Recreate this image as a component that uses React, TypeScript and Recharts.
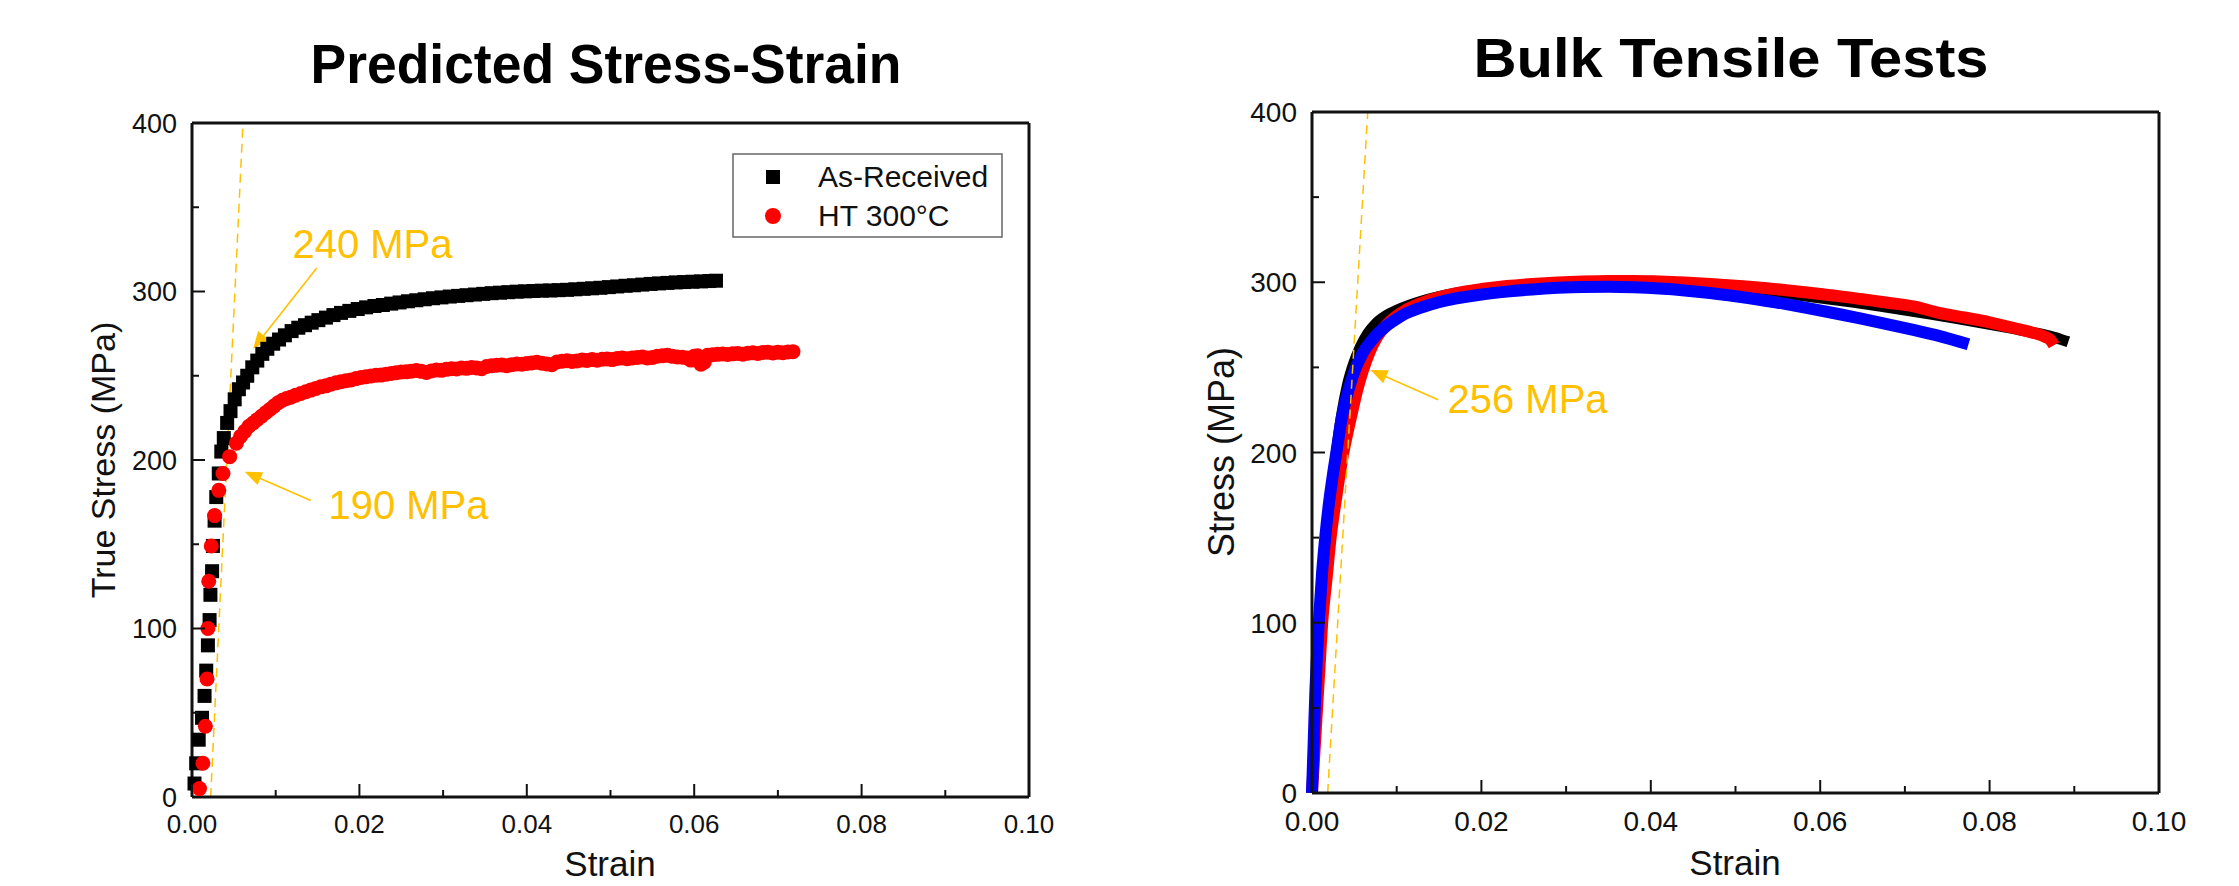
import React from 'react';
import { ComposedChart, Scatter, Line, XAxis, YAxis, ReferenceLine, ReferenceDot } from 'recharts';

const FONT = '"Liberation Sans", Arial, sans-serif';
const TITLE_FONT = '"Liberation Sans Narrow", "Arial Narrow", "Liberation Sans", Arial, sans-serif';
const AXIS = '#111';
const GOLD = '#FFC000';

const strainTicks = [0, 0.01, 0.02, 0.03, 0.04, 0.05, 0.06, 0.07, 0.08, 0.09, 0.1];
const strainLabels = ['0.00', '', '0.02', '', '0.04', '', '0.06', '', '0.08', '', '0.10'];
const stressTicks = [0, 50, 100, 150, 200, 250, 300, 350, 400];
const stressLabels = ['0', '', '100', '', '200', '', '300', '', '400'];

// left panel: predicted curves, [strain, true stress MPa]
const asReceived: [number, number][] = [
  [0.0003, 8], [0.0005, 20], [0.0008, 34], [0.0012, 47], [0.0015, 60], [0.0017, 75], [0.0019, 90],
  [0.0021, 105], [0.0022, 120], [0.0024, 134], [0.0025, 149], [0.0027, 164], [0.0029, 178], [0.0032, 192],
  [0.0035, 205], [0.0038, 213], [0.0042, 222], [0.0046, 229], [0.0051, 236], [0.0056, 242], [0.0061, 246],
  [0.0066, 250], [0.0072, 255], [0.0078, 259], [0.0084, 263], [0.009, 266], [0.0097, 269], [0.0104, 271.5],
  [0.0111, 274], [0.0119, 276.5], [0.0127, 278.5], [0.0135, 280], [0.0143, 281.5], [0.0151, 283], [0.016, 284.5],
  [0.0169, 286], [0.0178, 287.3], [0.0188, 288.5], [0.0198, 289.6], [0.0208, 290.6], [0.0218, 291.4], [0.0228, 292],
  [0.0238, 292.8], [0.0248, 293.5], [0.0258, 294.2], [0.0268, 294.8], [0.0278, 295.4], [0.0288, 296], [0.0298, 296.5],
  [0.0308, 297], [0.0318, 297.4], [0.0328, 297.8], [0.0338, 298.2], [0.0348, 298.6], [0.0358, 299], [0.0368, 299.3],
  [0.0378, 299.6], [0.0388, 299.9], [0.0398, 300.1], [0.0408, 300.3], [0.0418, 300.5], [0.0428, 300.6], [0.0438, 300.8],
  [0.0448, 301], [0.0458, 301.3], [0.0468, 301.6], [0.0478, 301.9], [0.0488, 302.2], [0.0498, 302.6], [0.0508, 303],
  [0.0518, 303.4], [0.0528, 303.7], [0.0538, 304.1], [0.0548, 304.5], [0.0558, 304.8], [0.0568, 305.1], [0.0578, 305.4],
  [0.0588, 305.6], [0.0598, 305.8], [0.0608, 306], [0.0618, 306.2], [0.0626, 306.4],
];

const ht300: [number, number][] = [
  [0.0009, 5], [0.0013, 20], [0.0016, 42], [0.0018, 70], [0.0019, 100], [0.002, 128], [0.0023, 149], [0.0027, 167],
  [0.0032, 182], [0.0037, 192], [0.0045, 202], [0.0053, 210], [0.0058, 214], [0.0063, 217], [0.0068, 220], [0.0073, 222],
  [0.0078, 224], [0.0083, 226], [0.0088, 228], [0.0093, 230], [0.0098, 232], [0.0103, 234], [0.0108, 235.5], [0.0113, 236.5],
  [0.0118, 237.3], [0.0124, 238.5], [0.013, 239.5], [0.0136, 240.5], [0.0142, 241.5], [0.0148, 242.5], [0.0154, 243.4],
  [0.016, 244], [0.0166, 245], [0.0172, 245.8], [0.0178, 246.5], [0.0184, 247], [0.019, 247.5], [0.0196, 248.3],
  [0.0202, 249], [0.0208, 249.4], [0.0214, 249.9], [0.022, 250.3], [0.0226, 250.4], [0.0232, 250.9], [0.0238, 251.4],
  [0.0244, 251.8], [0.025, 252.2], [0.0256, 252.3], [0.0262, 252.7], [0.0268, 253.1], [0.0274, 252.6], [0.028, 252],
  [0.0286, 252.8], [0.0292, 253.4], [0.0298, 253.2], [0.0304, 253.8], [0.031, 254.2], [0.0316, 254], [0.0322, 254.6],
  [0.0328, 254.4], [0.0334, 254.9], [0.034, 254.6], [0.0346, 254.2], [0.0352, 255.5], [0.0358, 256], [0.0364, 256.2],
  [0.037, 256.4], [0.0376, 256], [0.0382, 256.6], [0.0388, 257], [0.0394, 256.8], [0.04, 257.3], [0.0406, 257.6],
  [0.0412, 258], [0.0418, 257.4], [0.0424, 257], [0.043, 256.6], [0.0436, 258.2], [0.0442, 258.6], [0.0448, 258.9],
  [0.0454, 258.5], [0.046, 258.8], [0.0466, 259.3], [0.0472, 259.1], [0.0478, 259.6], [0.0484, 259.2], [0.049, 259.8],
  [0.0496, 260], [0.0502, 259.6], [0.0508, 260.2], [0.0514, 260.5], [0.052, 260.1], [0.0526, 260.6], [0.0532, 260.9],
  [0.0538, 261.2], [0.0544, 260.6], [0.055, 260.9], [0.0556, 261.6], [0.0562, 261.9], [0.0568, 262.1], [0.0574, 261.5],
  [0.058, 261.2], [0.0586, 261], [0.0592, 260.6], [0.0596, 259.3], [0.06, 261.5], [0.0604, 261.8], [0.0608, 256.8],
  [0.0612, 258], [0.0616, 262.2], [0.0622, 262.5], [0.0628, 262.7], [0.0634, 262.9], [0.064, 262.6], [0.0646, 263],
  [0.0652, 263.2], [0.0658, 262.8], [0.0664, 263.4], [0.067, 263.6], [0.0676, 263.2], [0.0682, 263.8], [0.0688, 264],
  [0.0694, 263.5], [0.07, 264], [0.0706, 263.7], [0.0712, 264.1], [0.0718, 264.3],
];

const predictedOffset: [number, number][] = [[0.00223, 0], [0.00609, 400]];

// right panel: bulk tensile tests, [strain, stress MPa]
const bulkBlack: [number, number][] = [
  [0, 0], [0.0003, 30], [0.0006, 60], [0.0009, 90], [0.0013, 120], [0.0018, 150], [0.0024, 180], [0.003, 205],
  [0.0036, 225], [0.0042, 240], [0.0049, 252], [0.0057, 262], [0.0066, 270], [0.0076, 276], [0.0088, 280.5],
  [0.01, 283.5], [0.0115, 286.5], [0.013, 289], [0.015, 291.6], [0.017, 293.6], [0.019, 295.2], [0.022, 297],
  [0.025, 298.3], [0.028, 299.2], [0.031, 299.8], [0.034, 300.1], [0.037, 300.1], [0.04, 299.8], [0.043, 299.1],
  [0.046, 298.1], [0.049, 296.9], [0.052, 295.5], [0.055, 293.9], [0.058, 292.1], [0.061, 290.2], [0.064, 288.2],
  [0.067, 286], [0.07, 283.7], [0.073, 281.3], [0.076, 278.8], [0.079, 276.2], [0.082, 273.5], [0.085, 270.6],
  [0.087, 268.5], [0.0885, 266.3], [0.0893, 265],
];

const bulkRed: [number, number][] = [
  [0, 0], [0.0003, 25], [0.0006, 50], [0.0009, 75], [0.0012, 100], [0.0017, 125], [0.0022, 150], [0.0029, 175],
  [0.0037, 200], [0.0042, 212], [0.0047, 223], [0.0053, 236], [0.006, 248], [0.0068, 259], [0.0077, 268],
  [0.0087, 274.5], [0.0098, 279.5], [0.011, 283.5], [0.0125, 287], [0.014, 289.8], [0.016, 292.5], [0.018, 294.5],
  [0.02, 296], [0.023, 297.8], [0.026, 299], [0.029, 299.9], [0.032, 300.5], [0.035, 300.8], [0.038, 300.8],
  [0.041, 300.4], [0.044, 299.8], [0.047, 299], [0.05, 298], [0.053, 296.8], [0.056, 295.3], [0.059, 293.7],
  [0.062, 292], [0.065, 290], [0.068, 288], [0.071, 285.8], [0.074, 282], [0.077, 279.3], [0.08, 276.5],
  [0.083, 273], [0.085, 270.5], [0.0865, 268], [0.0872, 266], [0.0876, 263],
];

const bulkBlue: [number, number][] = [
  [0, 0], [0.0002, 30], [0.0004, 60], [0.0006, 82], [0.0008, 100], [0.0012, 130], [0.0016, 152], [0.002, 170],
  [0.0025, 188], [0.003, 204], [0.0035, 220], [0.004, 231], [0.0045, 240], [0.005, 247.5], [0.0056, 254.5],
  [0.0063, 261], [0.007, 265.5], [0.0078, 270], [0.0087, 274], [0.0097, 277.5], [0.011, 281.5], [0.0125, 284.5],
  [0.014, 287], [0.016, 289.5], [0.018, 291.3], [0.02, 292.8], [0.023, 294.5], [0.026, 295.8], [0.029, 296.7],
  [0.032, 297.2], [0.035, 297.3], [0.038, 297], [0.041, 296.3], [0.044, 295.2], [0.047, 293.7], [0.05, 291.8],
  [0.053, 289.6], [0.056, 287.1], [0.059, 284.4], [0.062, 281.5], [0.065, 278.5], [0.068, 275.3], [0.071, 272],
  [0.074, 268.5], [0.0775, 263.5],
];

const bulkOffset: [number, number][] = [[0.00185, 0], [0.00658, 400]];

// annotations: text anchor (left, baseline), arrow tail and arrow tip, all in data units
const predictedNotes = [
  { text: '240 MPa', at: [0.012, 320], from: [0.0149, 314], tip: [0.0073, 266] },
  { text: '190 MPa', at: [0.0163, 165], from: [0.0142, 176], tip: [0.0063, 193] },
];
const bulkNotes = [
  { text: '256 MPa', at: [0.016, 223], from: [0.0149, 231], tip: [0.0069, 248.5] },
];

const pts = (d: [number, number][]) => d.map(([x, y]) => ({ x, y }));

function tickRenderer(side: string, labels: string[], showText: boolean, fontSize: number, gap: number) {
  return (p: any) => {
    const { x, y, index } = p;
    const label = labels[index] ?? '';
    const len = label ? 13 : 7;
    let x2 = x;
    let y2 = y;
    if (side === 'bottom') y2 = y - len;
    if (side === 'top') y2 = y + len;
    if (side === 'left') x2 = x + len;
    if (side === 'right') x2 = x - len;
    return (
      <g>
        <line x1={x} y1={y} x2={x2} y2={y2} stroke={AXIS} strokeWidth={2} />
        {showText && label && side === 'bottom' && (
          <text x={x} y={y + gap} textAnchor="middle" fontSize={fontSize} fontFamily={FONT} fill="#111">{label}</text>
        )}
        {showText && label && side === 'left' && (
          <text x={x - gap} y={y} dy="0.36em" textAnchor="end" fontSize={fontSize} fontFamily={FONT} fill="#111">{label}</text>
        )}
      </g>
    );
  };
}

const arrowShape = (p: any) => {
  const { x1, y1, x2, y2 } = p;
  const a = Math.atan2(y2 - y1, x2 - x1);
  const L = 17;
  const W = 7;
  const bx = x2 - L * Math.cos(a);
  const by = y2 - L * Math.sin(a);
  const head = `${x2},${y2} ${bx - W * Math.sin(a)},${by + W * Math.cos(a)} ${bx + W * Math.sin(a)},${by - W * Math.cos(a)}`;
  return (
    <g>
      <line x1={x1} y1={y1} x2={bx} y2={by} stroke={GOLD} strokeWidth={1.6} />
      <polygon points={head} fill={GOLD} />
    </g>
  );
};

const squareShape = (p: any) => <rect x={p.cx - 7} y={p.cy - 7} width={14} height={14} fill="#000" />;
const circleShape = (p: any) => <circle cx={p.cx} cy={p.cy} r={7.5} fill="#ff0000" />;

function axes(xFont: number, xGap: number, yFont: number) {
  const line = { stroke: AXIS, strokeWidth: 3 };
  return [
    <XAxis key="xb" type="number" dataKey="x" domain={[0, 0.1]} ticks={strainTicks} interval={0} height={40}
      tickLine={false} tickSize={0} tickMargin={0} axisLine={line} tick={tickRenderer('bottom', strainLabels, true, xFont, xGap)} />,
    <XAxis key="xt" xAxisId="top" orientation="top" type="number" dataKey="x" domain={[0, 0.1]} ticks={strainTicks} interval={0}
      height={20} tickLine={false} tickSize={0} tickMargin={0} axisLine={line} tick={tickRenderer('top', strainLabels, false, 0, 0)} />,
    <YAxis key="yl" type="number" dataKey="y" domain={[0, 400]} ticks={stressTicks} interval={0} width={100}
      tickLine={false} tickSize={0} tickMargin={0} axisLine={line} tick={tickRenderer('left', stressLabels, true, yFont, 15)} />,
    <YAxis key="yr" yAxisId="right" orientation="right" type="number" domain={[0, 400]} ticks={stressTicks} interval={0} width={20}
      tickLine={false} tickSize={0} tickMargin={0} axisLine={line} tick={tickRenderer('right', stressLabels, false, 0, 0)} />,
  ];
}

function notes(list: typeof predictedNotes) {
  return list.flatMap((n) => [
    <ReferenceLine key={n.text + 'a'} segment={[{ x: n.from[0], y: n.from[1] }, { x: n.tip[0], y: n.tip[1] }]} shape={arrowShape} />,
    <ReferenceDot key={n.text + 't'} x={n.at[0]} y={n.at[1]} r={0}
      shape={(p: any) => <text x={p.cx} y={p.cy} fill={GOLD} fontSize={40} fontFamily={FONT}>{n.text}</text>} />,
  ]);
}

function PredictedChart() {
  return (
    <ComposedChart width={1100} height={886} margin={{ top: 103, right: 51, bottom: 49, left: 92 }}>
      {axes(26, 36, 27)}
      <Scatter name="As-Received" data={pts(asReceived)} fill="#000" shape={squareShape} isAnimationActive={false} />
      <Scatter name="HT 300°C" data={pts(ht300)} fill="#ff0000" shape={circleShape} isAnimationActive={false} />
      <Line data={pts(predictedOffset)} dataKey="y" type="linear" stroke={GOLD} strokeWidth={1.5} strokeDasharray="9 6"
        dot={false} activeDot={false} isAnimationActive={false} />
      {notes(predictedNotes)}
    </ComposedChart>
  );
}

function BulkChart() {
  return (
    <ComposedChart width={1089} height={886} margin={{ top: 92, right: 60, bottom: 53, left: 62 }}>
      {axes(28, 38, 28)}
      <Line data={pts(bulkBlack)} dataKey="y" type="monotone" stroke="#000" strokeWidth={11} dot={false} activeDot={false} isAnimationActive={false} />
      <Line data={pts(bulkRed)} dataKey="y" type="monotone" stroke="#ff0000" strokeWidth={12} dot={false} activeDot={false} isAnimationActive={false} />
      <Line data={pts(bulkBlue)} dataKey="y" type="monotone" stroke="#0000ff" strokeWidth={12} dot={false} activeDot={false} isAnimationActive={false} />
      <Line data={pts(bulkOffset)} dataKey="y" type="linear" stroke={GOLD} strokeWidth={1.5} strokeDasharray="9 6"
        dot={false} activeDot={false} isAnimationActive={false} />
      {notes(bulkNotes)}
    </ComposedChart>
  );
}

export default function App() {
  return (
    <div style={{ position: 'absolute', left: 0, top: 0, width: 2239, height: 886, background: '#fff', overflow: 'hidden', fontFamily: FONT }}>
      <div style={{ position: 'absolute', left: 0, top: 0 }}>
        <PredictedChart />
      </div>
      <div style={{ position: 'absolute', left: 1150, top: 0 }}>
        <BulkChart />
      </div>
      <svg width={2239} height={886} style={{ position: 'absolute', left: 0, top: 0, pointerEvents: 'none' }} fontFamily={FONT}>
        <text x={606} y={83} textAnchor="middle" fontSize={56} fontWeight="bold" fontFamily={TITLE_FONT} textLength={591} lengthAdjust="spacingAndGlyphs">Predicted Stress-Strain</text>
        <text x={1731} y={77} textAnchor="middle" fontSize={56} fontWeight="bold" fontFamily={TITLE_FONT} textLength={515} lengthAdjust="spacingAndGlyphs">Bulk Tensile Tests</text>
        <text transform="translate(103,460) rotate(-90)" textAnchor="middle" dy="0.36em" fontSize={34} fill="#111">True Stress (MPa)</text>
        <text transform="translate(1221,452) rotate(-90)" textAnchor="middle" dy="0.36em" fontSize={36} fill="#111">Stress (MPa)</text>
        <text x={610} y={876} textAnchor="middle" fontSize={35} fill="#111">Strain</text>
        <text x={1735} y={875} textAnchor="middle" fontSize={35} fill="#111">Strain</text>
        <rect x={733} y={154} width={269} height={83} fill="#fff" stroke="#666" strokeWidth={1.5} />
        <rect x={766} y={170} width={14} height={14} fill="#000" />
        <circle cx={773} cy={216} r={8} fill="#ff0000" />
        <text x={818} y={187} fontSize={30} fill="#111">As-Received</text>
        <text x={818} y={226} fontSize={30} fill="#111">HT 300°C</text>
      </svg>
    </div>
  );
}
